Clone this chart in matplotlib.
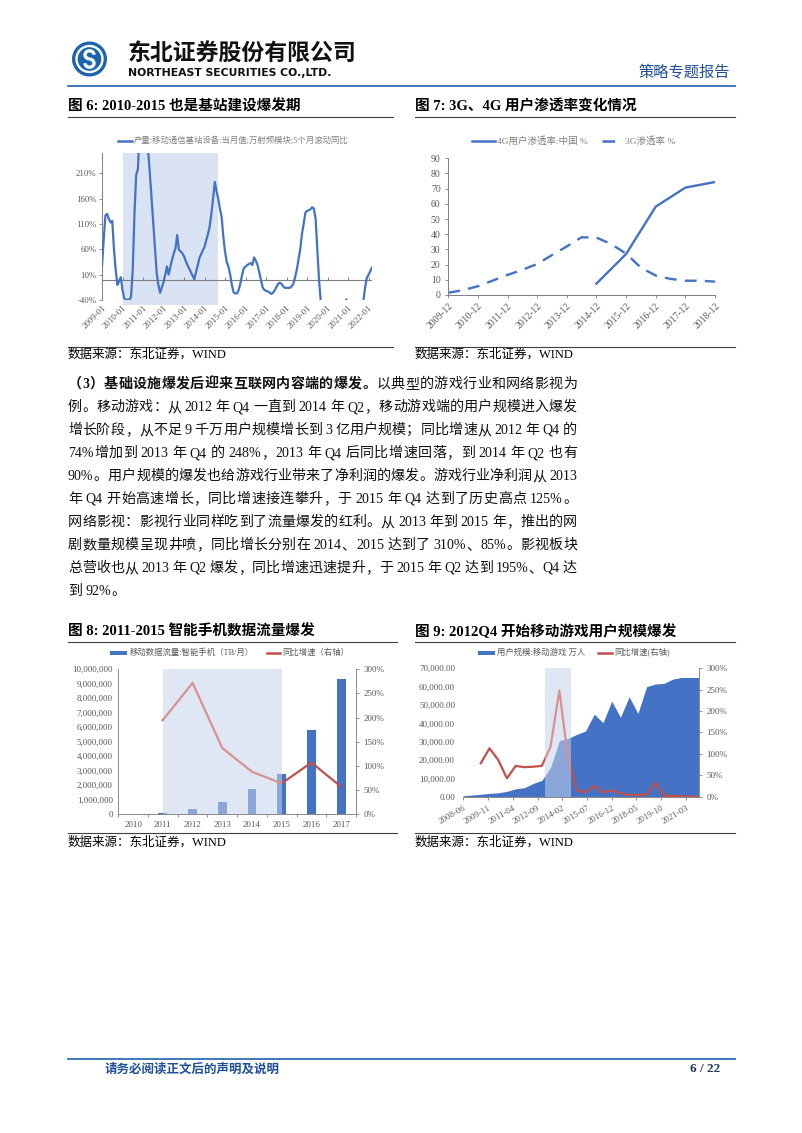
import matplotlib
matplotlib.use('Agg')
import matplotlib.pyplot as plt
from matplotlib.patches import Circle, Arc, Rectangle
from matplotlib.lines import Line2D
import numpy as np

plt.rcParams['font.family'] = ['Liberation Serif', 'Noto Sans CJK SC']
plt.rcParams['axes.unicode_minus'] = False

# ---------------- data ----------------
# Fig 6: monthly, from 2009-01
c6_start = '2009-01'
c6_values = [27, 80, 127, 130, 120, 113, 116, 60, 20, -10, -3, 5,
             -20, -37, -40, -39, -41, -33, 20, 130, 207, 218, 290, 340,
             360, 340, 300, 255, 210, 160, 111, 59, 13, -10, -26, -15,
             -5, 10, 26, 10, 25, 40, 52, 62, 88, 59, 56, 52,
             46, 37, 29, 22, 15, 8, 1, 15, 28, 43, 50, 58,
             65, 78, 90, 105, 130, 160, 193, 175, 160, 140, 124, 85,
             55, 35, 26, 10, -10, -25, -27, -27, -20, -7, 10, 23,
             26, 29, 31, 33, 29, 44, 38, 29, 15, 0, -15, -20,
             -22, -23, -25, -28, -26, -21, -15, -8, -6, -8, -13, -16,
             -16, -16, -16, -13, -8, 5, 20, 40, 60, 90, 110, 132,
             136, 137, 139, 143, 140, 120, 60, 0, -42, -70, -85, -90,
             -88, -80, -75, -70, -65, -60, -55, -52, -50, -48, -44, -39,
             -45, -55, -65, -75, -80, -78, -70, -60, -50, -40, -14, 4,
             10, 17, 24]
c6_ticklabels = ['2009-01', '2010-01', '2011-01', '2012-01', '2013-01', '2014-01', '2015-01',
                 '2016-01', '2017-01', '2018-01', '2019-01', '2020-01', '2021-01', '2022-01']
c6_shade = ('2010-01', '2014-09')
c6_yticks = [-40, 10, 60, 110, 160, 210]
c6_legend = '产量:移动通信基站设备:当月值;万射频模块;5个月滚动同比'

# Fig 7
c7_categories = ['2009-12', '2010-12', '2011-12', '2012-12', '2013-12', '2014-12',
                 '2015-12', '2016-12', '2017-12', '2018-12']
c7_3g_periods = ['2009-12', '2010-06', '2010-12', '2011-06', '2011-12', '2012-06', '2012-12',
                 '2013-06', '2013-12', '2014-06', '2014-12', '2015-06', '2015-12', '2016-06',
                 '2016-12', '2017-06', '2017-12', '2018-06', '2018-12']
c7_3g = [1.5, 3.2, 5.8, 9.5, 13.2, 16.6, 20.4, 26.3, 32.0, 38.0, 37.8, 33.5, 27.2, 18.0,
         12.8, 10.6, 9.4, 9.4, 8.8]
c7_4g_periods = ['2014-12', '2015-12', '2016-12', '2017-12', '2018-12']
c7_4g = [7.5, 27.0, 58.2, 70.7, 74.4]
c7_yticks = [0, 10, 20, 30, 40, 50, 60, 70, 80, 90]

# Fig 8
c8_years = ['2010', '2011', '2012', '2013', '2014', '2015', '2016', '2017']
c8_traffic = [5000, 70000, 368000, 870000, 1720000, 2780000, 5820000, 9310000]
c8_yoy = [np.nan, 195, 272, 137, 88, 64, 107, 57]
c8_shade = ('2011', '2015')

# Fig 9: semi-annual from 2008-06
c9_periods = ['2008-06', '2008-12', '2009-06', '2009-12', '2010-06', '2010-12', '2011-06',
              '2011-12', '2012-06', '2012-12', '2013-06', '2013-12', '2014-06', '2014-12',
              '2015-06', '2015-12', '2016-06', '2016-12', '2017-06', '2017-12', '2018-06',
              '2018-12', '2019-06', '2019-12', '2020-06', '2020-12', '2021-06', '2021-12']
c9_users = [500, 900, 1300, 1800, 2100, 2900, 4300, 4900, 7200, 8900, 16000, 30500,
            31800, 34000, 35800, 45000, 40300, 52100, 43300, 54500, 45400, 60000,
            61400, 61800, 64100, 65000, 65000, 65000]
c9_yoy = [np.nan, np.nan, 78, 113, 86, 43, 72, 69, 70, 72, 117, 248, 90, 15, 10, 25,
          10, 15, 8, 4, 4, 5, 32, 2, 2, 1, 0, 0]
c9_ticklabels = ['2008-06', '2009-11', '2011-04', '2012-09', '2014-02', '2015-07',
                 '2016-12', '2018-05', '2019-10', '2021-03']
c9_shade = ('2013-02', '2014-08')

# ---------------- helpers ----------------
W, H = 802, 1133
fig = plt.figure(figsize=(W / 100, H / 100), dpi=100)
fig.patch.set_facecolor('white')

BLUE = '#4472C4'
RED = '#C0504D'
GREY = '#595959'
SPINE = '#A6A6A6'
SHADE = '#DAE3F3'
HEADBLUE = '#2E6DB4'


def mon(s, base):
    y, m = map(int, s.split('-'))
    by, bm = map(int, base.split('-'))
    return (y - by) * 12 + (m - bm)


def fx(px):
    return px / W


def fy(py):
    return 1 - py / H


ov = fig.add_axes([0, 0, 1, 1])
ov.set_xlim(0, W)
ov.set_ylim(H, 0)
ov.axis('off')


def axpx(l, t, r, b):
    return fig.add_axes([l / W, 1 - b / H, (r - l) / W, (b - t) / H])


def hline(x0, x1, y, color='#404040', lw=0.8):
    ov.add_line(Line2D([x0, x1], [y, y], color=color, lw=lw))


# ---------------- header ----------------
ov.add_patch(Circle((89.5, 59), 17.5, fc='#1B62B0', ec='none'))
ov.add_patch(Circle((89.5, 59), 14.2, fc='white', ec='none'))
ov.add_patch(Circle((89.5, 59), 11.8, fc='#1B62B0', ec='none'))
ov.add_patch(Arc((89.5, 54.8), 9, 8, theta1=90, theta2=360, color='white', lw=2.4))
ov.add_patch(Arc((89.5, 63.2), 9, 8, theta1=270, theta2=180 + 360, color='white', lw=2.4))
ov.text(128, 53, '东北证券股份有限公司', fontsize=16.5, fontweight='bold',
        family=['Noto Sans CJK SC'], va='center', ha='left', color='#111111')
ov.text(128, 72.5, 'NORTHEAST SECURITIES CO.,LTD.', fontsize=7.8, fontweight='bold',
        family=['DejaVu Sans'], va='center', ha='left', color='#111111')
ov.text(730, 72, '策略专题报告', fontsize=11, va='center', ha='right', color='#1F4E9A')
hline(68, 735, 85.5, color=HEADBLUE, lw=1.3)

# ---------------- chart titles / rules ----------------
ov.text(68, 106, '图 6: 2010-2015 也是基站建设爆发期', fontsize=10.5, fontweight='bold', va='center')
ov.text(415, 106, '图 7: 3G、4G 用户渗透率变化情况', fontsize=10.5, fontweight='bold', va='center')
hline(68, 393, 116.5)
hline(415, 735, 116.5)
hline(68, 393, 347)
hline(415, 735, 347)
ov.text(68, 354.5, '数据来源：东北证券，WIND', fontsize=9, va='center')
ov.text(415, 354.5, '数据来源：东北证券，WIND', fontsize=9, va='center')

ov.text(68, 631.5, '图 8: 2011-2015 智能手机数据流量爆发', fontsize=10.5, fontweight='bold', va='center')
ov.text(415, 631.5, '图 9: 2012Q4 开始移动游戏用户规模爆发', fontsize=10.5, fontweight='bold', va='center')
hline(68, 397, 641.5)
hline(415, 735, 641.5)
hline(68, 397, 832.5)
hline(415, 735, 832.5)
ov.text(68, 842, '数据来源：东北证券，WIND', fontsize=9, va='center')
ov.text(415, 842, '数据来源：东北证券，WIND', fontsize=9, va='center')

# ---------------- footer ----------------
hline(68, 735, 1059, color=HEADBLUE, lw=1.3)
ov.text(105, 1069.5, '请务必阅读正文后的声明及说明', fontsize=9, fontweight='bold', color='#1F4E9A', va='center')
ov.text(720, 1069.5, '6 / 22', fontsize=9.5, fontweight='bold', color='#1F3864', va='center', ha='right')

# ---------------- Chart 6 ----------------
ax6 = axpx(102, 153, 372, 300)
m6 = np.arange(len(c6_values))
ax6.axvspan(mon(c6_shade[0], c6_start), mon(c6_shade[1], c6_start), ymin=-0.035, ymax=1,
            color=SHADE, zorder=0, lw=0, clip_on=False)
ax6.plot(m6, c6_values, color=BLUE, lw=1.6, zorder=3)
ax6.axhline(0, color='#7F7F7F', lw=0.8, zorder=2)
t6 = [mon(s, c6_start) for s in c6_ticklabels]
ax6.plot(t6, [0] * len(t6), ls='none', marker=2, ms=2.5, mew=0.7, color='#7F7F7F', zorder=2)
ax6.set_xlim(0, len(c6_values) - 1)
ax6.set_ylim(-40, 250)
ax6.set_yticks(c6_yticks)
ax6.set_yticklabels([f'{v}%' for v in c6_yticks])
ax6.set_xticks(t6)
ax6.set_xticklabels(c6_ticklabels, rotation=45, ha='right', rotation_mode='anchor')
ax6.tick_params(axis='x', length=0, pad=3, labelsize=6.3, labelcolor=GREY)
ax6.tick_params(axis='y', length=2, width=0.6, color='#7F7F7F', pad=2, labelsize=6.3, labelcolor=GREY)
for s in ['top', 'right', 'bottom']:
    ax6.spines[s].set_visible(False)
ax6.spines['left'].set_color('#7F7F7F')
ax6.spines['left'].set_linewidth(0.7)
ax6.patch.set_alpha(0)
ov.add_line(Line2D([118, 132], [140.7, 140.7], color=BLUE, lw=1.8))
ov.text(134, 140.7, c6_legend, fontsize=6, color='#7F7F7F', va='center')

# ---------------- Chart 7 ----------------
ax7 = axpx(448.3, 158.3, 715, 295)
x3 = [mon(p, c7_categories[0]) / 12 for p in c7_3g_periods]
x4 = [mon(p, c7_categories[0]) / 12 for p in c7_4g_periods]
ax7.plot(x3, c7_3g, color=BLUE, lw=1.7, dashes=(5, 3.5))
ax7.plot(x4, c7_4g, color=BLUE, lw=1.7)
ax7.set_xlim(0, len(c7_categories) - 1)
ax7.set_ylim(0, 90)
ax7.set_yticks(c7_yticks)
ax7.set_xticks(range(len(c7_categories)))
ax7.set_xticklabels(c7_categories, rotation=45, ha='right', rotation_mode='anchor')
ax7.tick_params(axis='x', length=2.5, width=0.6, color='#7F7F7F', pad=2, labelsize=7, labelcolor=GREY)
ax7.tick_params(axis='y', length=2.5, width=0.6, color='#7F7F7F', pad=3, labelsize=7, labelcolor=GREY)
for s in ['top', 'right']:
    ax7.spines[s].set_visible(False)
for s in ['left', 'bottom']:
    ax7.spines[s].set_color('#7F7F7F')
    ax7.spines[s].set_linewidth(0.7)
ax7.patch.set_alpha(0)
ov.add_line(Line2D([472, 495], [141, 141], color=BLUE, lw=1.8))
ov.text(497, 141, '4G用户渗透率:中国 %', fontsize=6.8, color='#7F7F7F', va='center')
ov.add_line(Line2D([602, 623], [141, 141], color=BLUE, lw=1.8, dashes=(5, 3.5)))
ov.text(625, 141, '3G渗透率 %', fontsize=6.8, color='#7F7F7F', va='center')

# ---------------- Chart 8 ----------------
ax8 = axpx(118.3, 669.3, 356, 814.3)
xc = np.arange(len(c8_years))
s0, s1 = c8_years.index(c8_shade[0]), c8_years.index(c8_shade[1])
ax8.axvspan(s0, s1, color='#CCD9EE', lw=0, zorder=0)
ax8.bar(xc, c8_traffic, width=0.3, color=BLUE, zorder=2)
ax8.set_xlim(-0.5, len(c8_years) - 0.5)
ax8.set_ylim(0, 1e7)
ax8.set_yticks(np.arange(0, 1e7 + 1, 1e6))
ax8.set_yticklabels([f'{int(v):,}' for v in np.arange(0, 1e7 + 1, 1e6)])
ax8.set_xticks(xc)
ax8.set_xticklabels(c8_years)
ax8.set_xticks(np.arange(-0.5, len(c8_years), 1), minor=True)
ax8.tick_params(axis='x', which='major', length=0, pad=5, labelsize=6.5, labelcolor=GREY)
ax8.tick_params(axis='x', which='minor', length=2.5, width=0.6, color='#7F7F7F')
ax8.tick_params(axis='y', length=0, pad=4, labelsize=6.5, labelcolor=GREY)
ax8r = ax8.twinx()
ax8r.plot(xc, c8_yoy, color=RED, lw=1.6, zorder=3)
ax8r.axvspan(s0, s1, color='white', alpha=0.38, lw=0, zorder=5)
ax8r.set_ylim(0, 300)
ax8r.set_yticks(range(0, 301, 50))
ax8r.set_yticklabels([f'{v}%' for v in range(0, 301, 50)])
ax8r.tick_params(axis='y', length=2.5, width=0.6, color='#7F7F7F', pad=3, labelsize=6.5, labelcolor=GREY)
for a in (ax8, ax8r):
    a.spines['top'].set_visible(False)
    for s in ['left', 'right', 'bottom']:
        a.spines[s].set_color('#8C8C8C')
        a.spines[s].set_linewidth(0.7)
ov.add_patch(Rectangle((110, 650.5), 17, 4.5, fc=BLUE, ec='none'))
ov.text(130, 652.7, '移动数据流量:智能手机（TB/月）', fontsize=6, color=GREY, va='center')
ov.add_line(Line2D([267, 280], [652.7, 652.7], color=RED, lw=1.8))
ov.text(282, 652.7, '同比增速（右轴）', fontsize=6, color=GREY, va='center')

# ---------------- Chart 9 ----------------
ax9 = axpx(463.3, 668.3, 699, 796.7)
x9 = np.array([mon(p, c9_periods[0]) for p in c9_periods])
sh0, sh1 = mon(c9_shade[0], c9_periods[0]), mon(c9_shade[1], c9_periods[0])
ax9.axvspan(sh0, sh1, color='#CCD9EE', lw=0, zorder=0)
ax9.fill_between(x9, c9_users, 0, color=BLUE, lw=0, zorder=2)
ax9.set_xlim(x9[0], x9[-1])
ax9.set_ylim(0, 70000)
ax9.set_yticks(range(0, 70001, 10000))
ax9.set_yticklabels([f'{v:,.2f}' for v in range(0, 70001, 10000)])
t9 = [mon(s, c9_periods[0]) for s in c9_ticklabels]
ax9.set_xticks(t9)
ax9.set_xticklabels(c9_ticklabels, rotation=30, ha='right', rotation_mode='anchor')
ax9.tick_params(axis='x', length=2.5, width=0.6, color='#7F7F7F', pad=3, labelsize=6.3, labelcolor=GREY)
ax9.tick_params(axis='y', length=0, pad=6, labelsize=6.5, labelcolor=GREY)
ax9r = ax9.twinx()
ax9r.plot(x9, c9_yoy, color=RED, lw=1.6, zorder=3)
ax9r.axvspan(sh0, sh1, color='white', alpha=0.38, lw=0, zorder=5)
ax9r.set_ylim(0, 300)
ax9r.set_yticks(range(0, 301, 50))
ax9r.set_yticklabels([f'{v}%' for v in range(0, 301, 50)])
ax9r.tick_params(axis='y', length=2.5, width=0.6, color='#7F7F7F', pad=3, labelsize=6.5, labelcolor=GREY)
for a in (ax9, ax9r):
    a.spines['top'].set_visible(False)
    a.spines['left'].set_visible(False)
    for s in ['right', 'bottom']:
        a.spines[s].set_color('#8C8C8C')
        a.spines[s].set_linewidth(0.7)
ov.add_patch(Rectangle((478, 650.5), 17, 4.5, fc=BLUE, ec='none'))
ov.text(497, 652.7, '用户规模:移动游戏 万人', fontsize=6, color=GREY, va='center')
ov.add_line(Line2D([598, 612], [652.7, 652.7], color=RED, lw=1.8))
ov.text(614, 652.7, '同比增速(右轴)', fontsize=6, color=GREY, va='center')

# ---------------- body paragraph ----------------
para = [
    [('（3）基础设施爆发后迎来互联网内容端的爆发。', True), ('以典型的游戏行业和网络影视为', False)],
    [('例。移动游戏：从 2012 年 Q4 一直到 2014 年 Q2，移动游戏端的用户规模进入爆发', False)],
    [('增长阶段，从不足 9 千万用户规模增长到 3 亿用户规模；同比增速从 2012 年 Q4 的', False)],
    [('74%增加到 2013 年 Q4 的 248%，2013 年 Q4 后同比增速回落，到 2014 年 Q2 也有', False)],
    [('90%。用户规模的爆发也给游戏行业带来了净利润的爆发。游戏行业净利润从 2013', False)],
    [('年 Q4 开始高速增长，同比增速接连攀升，于 2015 年 Q4 达到了历史高点 125%。', False)],
    [('网络影视：影视行业同样吃到了流量爆发的红利。从 2013 年到 2015 年，推出的网', False)],
    [('剧数量规模呈现井喷，同比增长分别在 2014、2015 达到了 310%、85%。影视板块', False)],
    [('总营收也从 2013 年 Q2 爆发，同比增速迅速提升，于 2015 年 Q2 达到 195%、Q4 达', False)],
    [('到 92%。', False)],
]

renderer = fig.canvas.get_renderer()
BODY = 10.1


def para_line(ybase, segs, x0=68, x1=577, size=BODY, justify=True):
    toks = []
    for s, bold in segs:
        buf = ''
        for ch in s:
            if ch == ' ':
                if buf:
                    toks.append((buf, bold))
                    buf = ''
                toks.append((None, bold))
            elif ord(ch) < 0x2000:
                buf += ch
            else:
                if buf:
                    toks.append((buf, bold))
                    buf = ''
                toks.append((ch, bold))
        if buf:
            toks.append((buf, bold))
    arts, widths = [], []
    for t, bold in toks:
        if t is None:
            arts.append(None)
            widths.append(size * 100 / 72 * 0.2)
        else:
            a = fig.text(0, fy(ybase), t, fontsize=size, fontweight='bold' if bold else 'normal',
                         va='baseline', ha='left', color='#111111')
            arts.append(a)
            widths.append(a.get_window_extent(renderer).width)
    n = len(toks)
    gap = (x1 - x0 - sum(widths)) / (n - 1) if (justify and n > 1) else 0.3
    x = x0
    for a, w in zip(arts, widths):
        if a is not None:
            a.set_x(fx(x))
        x += w + gap


for i, segs in enumerate(para):
    para_line(388 + 23 * i, segs, justify=(i < len(para) - 1))

fig.savefig('out.png', dpi=100, facecolor='white')
